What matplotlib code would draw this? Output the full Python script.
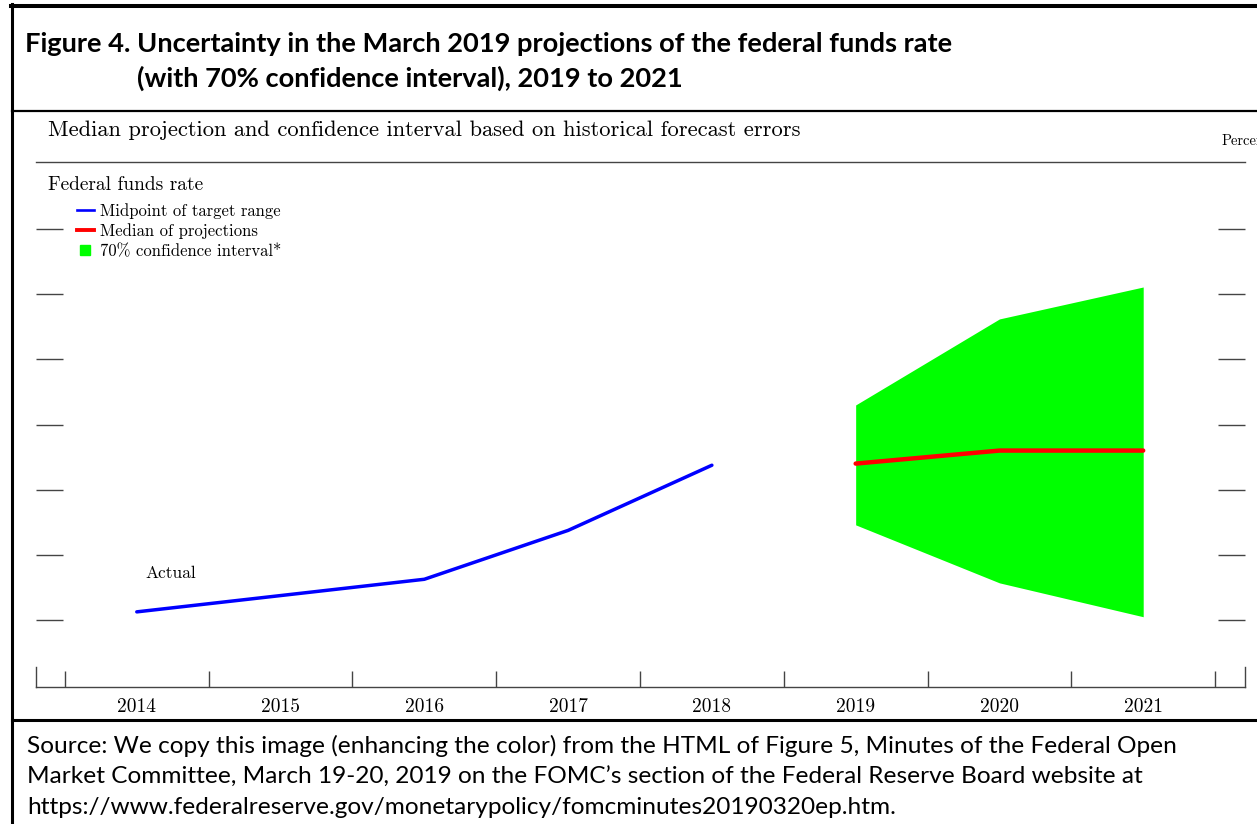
import matplotlib.pyplot as plt
from matplotlib.lines import Line2D

# data (percent)
actual_years = [2014, 2015, 2016, 2017, 2018]
actual_rate = [0.125, 0.375, 0.625, 1.375, 2.375]
proj_years = [2019, 2020, 2021]
median_rate = [2.4, 2.6, 2.6]
ci_low = [1.46, 0.57, 0.05]
ci_high = [3.3, 4.62, 5.11]
year_labels = ['2014', '2015', '2016', '2017', '2018', '2019', '2020', '2021']
label_years = [2014, 2015, 2016, 2017, 2018, 2019, 2020, 2021]
y_ticks = [0, 1, 2, 3, 4, 5, 6]
x_bounds = [2013.5, 2014.5, 2015.5, 2016.5, 2017.5, 2018.5, 2019.5, 2020.5, 2021.5]

title1 = "Figure 4. Uncertainty in the March 2019 projections of the federal funds rate"
title2 = "(with 70% confidence interval), 2019 to 2021"
source_lines = [
    "Source: We copy this image (enhancing the color) from the HTML of Figure 5, Minutes of the Federal Open",
    "Market Committee, March 19-20, 2019 on the FOMC\u2019s section of the Federal Reserve Board website at",
    "https://www.federalreserve.gov/monetarypolicy/fomcminutes20190320ep.htm.",
]

W, H = 1257, 824
fig = plt.figure(figsize=(W / 100, H / 100), dpi=100)


def fx(px):
    return px / W


def fy(py):
    return 1 - py / H


serif = 'cmr10'
sans = ['Lato', 'DejaVu Sans']
grey = '#444444'

ax = fig.add_axes([fx(36), fy(687), fx(1245) - fx(36), fy(162) - fy(687)])
ylo, yhi = -1.028, 7.028
ax.set_xlim(2013.299, 2021.708)
ax.set_ylim(ylo, yhi)

ax.fill_between(proj_years, ci_low, ci_high, color='#00ff00', lw=0, zorder=1)
ax.plot(actual_years, actual_rate, color='#0000ff', lw=2.5, solid_capstyle='round', zorder=3)
ax.plot(proj_years, median_rate, color='#ff0000', lw=3.2, solid_capstyle='round', zorder=3)
ax.text(2014.06, 0.71, 'Actual', family=serif, fontsize=12.5, va='center', ha='left')

# spines / ticks
for side in ['top', 'bottom', 'left', 'right']:
    ax.spines[side].set_color(grey)
    ax.spines[side].set_linewidth(1.0)
ax.spines['left'].set_bounds(ylo, ylo + 20 / 65.17)
ax.spines['right'].set_bounds(ylo, ylo + 20 / 65.17)

ax.set_xticks(x_bounds)
ax.set_xticklabels([])
ax.set_xticks(label_years, minor=True)
ax.set_xticklabels(year_labels, minor=True, family=serif, fontsize=14)
ax.tick_params(axis='x', which='major', direction='in', length=11.5, width=1.0, color=grey)
ax.tick_params(axis='x', which='minor', length=0, pad=8)

ax.set_yticks(y_ticks)
ax.set_yticklabels([])
ax.tick_params(axis='y', direction='in', length=19.5, width=1.0, color=grey,
               left=True, right=True)

# legend
handles = [
    Line2D([], [], color='#0000ff', lw=1.9),
    Line2D([], [], color='#ff0000', lw=2.8),
    Line2D([], [], color='#00ff00', marker='s', markersize=7.5, lw=0),
]
labels = ['Midpoint of target range', 'Median of projections', '70% confidence interval*']
ax.legend(handles, labels, loc='upper left', bbox_to_anchor=(fx(77), fy(203)),
          bbox_transform=fig.transFigure, frameon=False, handlelength=1.0,
          handletextpad=0.35, labelspacing=0.27, borderpad=0, borderaxespad=0,
          prop={'family': serif, 'size': 12})

# texts around the plot
fig.text(fx(48), fy(130), 'Median projection and confidence interval based on historical forecast errors',
         family=serif, fontsize=16.2, va='center', ha='left')
fig.text(fx(1222), fy(141), 'Percent', family=serif, fontsize=10.5, va='center', ha='left')
fig.text(fx(48), fy(185), 'Federal funds rate', family=serif, fontsize=14, va='center', ha='left')

fig.text(fx(25), fy(44), title1, family=sans, fontweight='bold', fontsize=19.6, va='center', ha='left')
fig.text(fx(137), fy(78), title2, family=sans, fontweight='bold', fontsize=19.6, va='center', ha='left')

for i, line in enumerate(source_lines):
    fig.text(fx(27), fy(746 + 31 * i), line, family=sans, fontsize=17.6, va='center', ha='left')

# frame
frame = [
    ([12, 12], [4, 824], 2.2),
    ([11, 1257], [6, 6], 2.9),
    ([12, 1257], [111, 111], 1.6),
    ([12, 1257], [720, 720], 2.2),
]
for xs, ys, lw in frame:
    fig.add_artist(Line2D([fx(x) for x in xs], [fy(y) for y in ys],
                          transform=fig.transFigure, color='black', lw=lw))

fig.savefig('out.png', dpi=100)
